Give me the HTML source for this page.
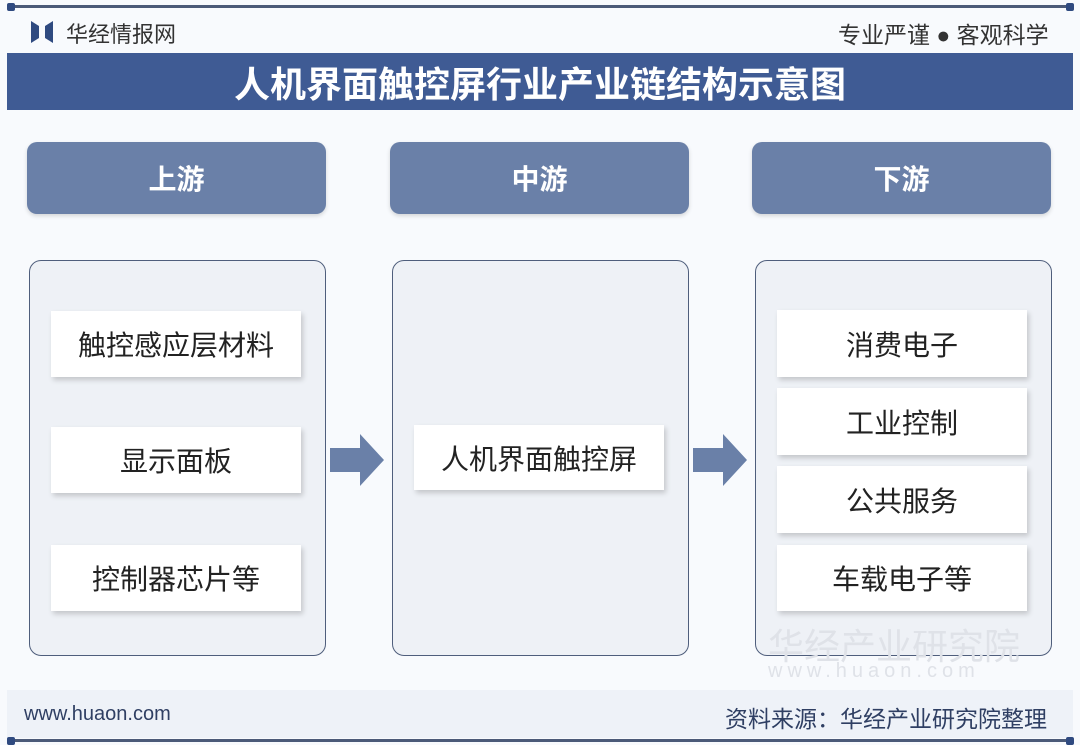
<!DOCTYPE html>
<html><head><meta charset="utf-8"><style>
*{margin:0;padding:0;box-sizing:border-box}
body{width:1080px;height:745px;background:#f8fafd;position:relative;overflow:hidden;font-family:"Liberation Sans","Noto Sans CJK SC",sans-serif}
.a{position:absolute}
.line{height:3px;background:#4b5a78;left:7px;width:1066px}
.dot{width:8px;height:8px;background:#2f4a80;border-radius:2px}
.hd{background:#6a80a8;border-radius:10px;color:#fff;font-size:28px;font-weight:bold;display:flex;align-items:center;justify-content:center;top:142px;height:72px;width:299px;box-shadow:0 2px 4px rgba(0,0,0,.15)}
.pn{background:#eef1f6;border:1.5px solid #4f5e7c;border-radius:12px;top:260px;height:396px;width:297px}
.bx{background:#fff;box-shadow:2px 3px 5px rgba(0,0,0,.18);width:250px;display:flex;align-items:center;justify-content:center;font-size:28px;color:#222}
</style></head><body>
<div class="a line" style="top:5px"></div>
<div class="a dot" style="left:7px;top:3px"></div><div class="a dot" style="left:1066px;top:3px"></div>
<div class="a" style="left:31px;top:21px;width:22px;height:22px">
<svg width="22" height="22"><polygon points="0,0 8,5 8,17 0,22" fill="#2f4a80"/><polygon points="22,0 14,5 14,17 22,22" fill="#2f4a80"/></svg></div>
<div class="a" style="left:66px;top:17px;font-size:22px;color:#333">华经情报网</div>
<div class="a" style="left:838px;top:16px;font-size:23px;color:#333">专业严谨 ● 客观科学</div>
<div class="a" style="left:7px;top:53px;width:1066px;height:57px;background:#3f5b94;color:#fff;font-size:36px;font-weight:bold;display:flex;align-items:center;justify-content:center">人机界面触控屏行业产业链结构示意图</div>
<div class="a hd" style="left:27px">上游</div>
<div class="a hd" style="left:390px">中游</div>
<div class="a hd" style="left:752px">下游</div>
<div class="a pn" style="left:29px"></div>
<div class="a pn" style="left:392px"></div>
<div class="a pn" style="left:755px"></div>
<div class="a bx" style="left:51px;top:311px;height:66px">触控感应层材料</div>
<div class="a bx" style="left:51px;top:427px;height:66px">显示面板</div>
<div class="a bx" style="left:51px;top:545px;height:66px">控制器芯片等</div>
<div class="a bx" style="left:414px;top:425px;height:65px">人机界面触控屏</div>
<div class="a bx" style="left:777px;top:310px;height:67px">消费电子</div>
<div class="a bx" style="left:777px;top:388px;height:67px">工业控制</div>
<div class="a bx" style="left:777px;top:466px;height:67px">公共服务</div>
<div class="a bx" style="left:777px;top:545px;height:66px">车载电子等</div>
<svg class="a" style="left:330px;top:434px" width="54" height="52"><polygon points="0,14 30,14 30,0 54,26 30,52 30,38 0,38" fill="#6a80a8"/></svg>
<svg class="a" style="left:693px;top:434px" width="54" height="52"><polygon points="0,14 30,14 30,0 54,26 30,52 30,38 0,38" fill="#6a80a8"/></svg>
<div class="a" style="left:768px;top:618px;font-size:36px;color:#dfe2e8">华经产业研究院</div>
<div class="a" style="left:768px;top:660px;font-size:20px;letter-spacing:5px;color:#dfe2e8">www.huaon.com</div>
<div class="a" style="left:7px;top:690px;width:1066px;height:48px;background:#eef2f8"></div>
<div class="a" style="left:24px;top:703px;font-size:20px;color:#2f3f63">www.huaon.com</div>
<div class="a" style="left:725px;top:700px;font-size:23px;color:#2f3f63">资料来源：华经产业研究院整理</div>
<div class="a line" style="top:739px"></div>
<div class="a dot" style="left:7px;top:737px"></div><div class="a dot" style="left:1066px;top:737px"></div>
</body></html>
